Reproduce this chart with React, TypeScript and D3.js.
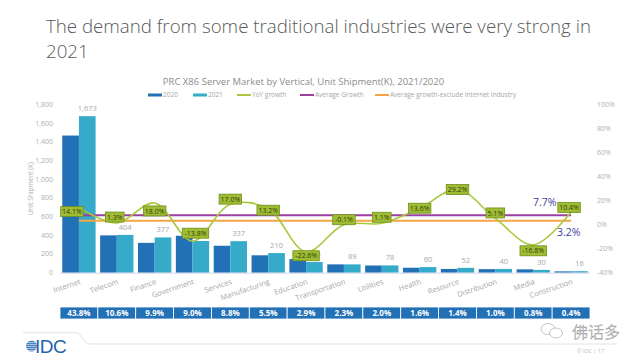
import React from "react";
import * as d3 from "d3";

const categories = ["Internet","Telecom","Finance","Government","Services","Manufacturing","Education","Transportation","Utilities","Health","Resource","Distribution","Media","Construction"];
const units2020 = [1466, 399, 319, 395, 288, 186, 146, 89, 77, 53, 40, 38, 36, 14.5];
const units2021 = [1673, 404, 377, 339, 337, 210, 114, 89, 78, 60, 52, 40, 30, 16];
const yoyGrowth = [14.1, 1.3, 18.0, -13.8, 17.0, 13.2, -22.6, -0.1, 1.1, 13.6, 29.2, 5.1, -16.8, 10.4];
const shares = ["43.8%","10.6%","9.9%","9.0%","8.8%","5.5%","2.9%","2.3%","2.0%","1.6%","1.4%","1.0%","0.8%","0.4%"];
const avgGrowth = 7.7;
const avgGrowthExInternet = 3.2;
const leftTicks = [0,200,400,600,800,1000,1200,1400,1600,1800];
const rightTicks = [-40,-20,0,20,40,60,80,100];

// label placement nudges (style, in px) for the YoY data-label boxes
const boxNudgeY = [4, -6, 8, -8, -5, 1.5, 4, -5, -6, 0, 0, -5.5, 6, -4.5];
const boxNudgeX = [-7, -2, 0, 3, 0, 0, 0, 0, 0, 0, 0, 0, 0, -2];

const C2020 = "#2271b6";
const C2021 = "#36abc9";
const CYOY = "#a9c83c";
const CAVG = "#9c3f9e";
const CAVGX = "#f5a446";
const FONT = "'Open Sans', 'Noto Sans', sans-serif";

export default function App() {
  const W = 640, H = 360;
  const x0 = 60, x1 = 590;
  const yTop = 104.3, yBot = 272.7;
  const x = d3.scaleBand<string>().domain(categories).range([x0, x1]).paddingInner(0.12).paddingOuter(0.06);
  const xs = d3.scaleBand<string>().domain(["2020","2021"]).range([0, x.bandwidth()]);
  const yL = d3.scaleLinear().domain([0, 1800]).range([yBot, yTop]);
  const yR = d3.scaleLinear().domain([-40, 100]).range([yBot, yTop]);
  const cx = (c: string) => (x(c) as number) + x.bandwidth() / 2;
  const tableX = d3.scaleBand<string>().domain(categories).range([x0, x1]);

  const line = d3.line<number>()
    .x((_, i) => cx(categories[i]))
    .y(d => yR(d))
    .curve(d3.curveCatmullRom.alpha(0.5));

  const fmt = d3.format(",");
  const firstC = cx(categories[0]);
  const lastC = cx(categories[categories.length - 1]);

  const legend = [
    { x: 148, label: "2020", color: C2020, h: 3 },
    { x: 193, label: "2021", color: C2021, h: 3 },
    { x: 237, label: "YoY growth", color: CYOY, h: 2 },
    { x: 300, label: "Average Growth", color: CAVG, h: 2 },
    { x: 375, label: "Average growth-exclude Internet Industry", color: CAVGX, h: 2 },
  ];

  return (
    <svg width={W} height={H} style={{ position: "absolute", left: 0, top: 0, background: "#fff" }} fontFamily={FONT}>
      <rect x={0} y={0} width={W} height={H} fill="#fff" />
      {/* Page title */}
      <text x={46} y={33} fontSize={18.7} fontWeight={300} fill="#595959">The demand from some traditional industries were very strong in</text>
      <text x={46} y={58} fontSize={18.7} fontWeight={300} fill="#595959">2021</text>

      {/* Chart title */}
      <text x={303.5} y={85} fontSize={9.5} fill="#8c8c8c" textAnchor="middle">PRC X86 Server Market by Vertical, Unit Shipment(K), 2021/2020</text>

      {/* Legend */}
      {legend.map(l => (
        <g key={l.label}>
          <rect x={l.x} y={95 - l.h / 2} width={14} height={l.h} fill={l.color} />
          <text x={l.x + 15} y={97.3} fontSize={6.5} fill="#a6a6a6">{l.label}</text>
        </g>
      ))}

      {/* Left axis */}
      {leftTicks.map(t => (
        <text key={t} x={53} y={yL(t) + 2.5} fontSize={7} fill="#b0b0b0" textAnchor="end">{fmt(t)}</text>
      ))}
      <text transform={`translate(33,${(yTop + yBot) / 2}) rotate(-90)`} fontSize={6.5} fill="#b0b0b0" textAnchor="middle">Unit Shipment (K)</text>

      {/* Right axis */}
      {rightTicks.map(t => (
        <text key={t} x={597} y={yR(t) + 2.5} fontSize={7} fill="#b0b0b0">{t + "%"}</text>
      ))}

      {/* Bars */}
      {categories.map((c, i) => (
        <g key={c}>
          <rect x={(x(c) as number) + (xs("2020") as number)} y={yL(units2020[i])} width={xs.bandwidth()} height={yBot - yL(units2020[i])} fill={C2020} />
          <rect x={(x(c) as number) + (xs("2021") as number)} y={yL(units2021[i])} width={xs.bandwidth()} height={yBot - yL(units2021[i])} fill={C2021} />
          <text x={(x(c) as number) + (xs("2021") as number) + xs.bandwidth() / 2} y={yL(units2021[i]) - 5} fontSize={7.5} fill="#a6a6a6" textAnchor="middle">{fmt(units2021[i])}</text>
        </g>
      ))}
      <line x1={x0} x2={x1} y1={yBot + 0.5} y2={yBot + 0.5} stroke="#d6d6ee" strokeWidth={1} />

      {/* Category labels */}
      {categories.map(c => (
        <text key={c} transform={`translate(${cx(c) + 2},${yBot + 11}) rotate(-19)`} fontSize={7.5} fill="#a6a6a6" textAnchor="end">{c}</text>
      ))}

      {/* Average lines */}
      <line x1={firstC} x2={lastC} y1={yR(avgGrowth)} y2={yR(avgGrowth)} stroke={CAVG} strokeWidth={2} />
      <line x1={firstC} x2={lastC} y1={yR(avgGrowthExInternet)} y2={yR(avgGrowthExInternet)} stroke={CAVGX} strokeWidth={2} />
      <text x={533} y={206} fontSize={10.5} fill="#3f3fa0">{avgGrowth.toFixed(1) + "%"}</text>
      <text x={557} y={236} fontSize={10.5} fill="#3f3fa0">{avgGrowthExInternet.toFixed(1) + "%"}</text>

      {/* YoY growth line */}
      <path d={line(yoyGrowth) || ""} fill="none" stroke={CYOY} strokeWidth={1.6} />
      {yoyGrowth.map((g, i) => {
        const label = g.toFixed(1) + "%";
        const w = label.length * 3.9 + 3;
        const px = cx(categories[i]) + boxNudgeX[i];
        const py = yR(g) + boxNudgeY[i];
        return (
          <g key={i}>
            <rect x={px - w / 2} y={py - 5} width={w} height={10} fill="#9fbd32" stroke="#6f8e1d" strokeWidth={0.8} />
            <text x={px} y={py + 2.6} fontSize={7} fill="#2f3a10" textAnchor="middle">{label}</text>
          </g>
        );
      })}

      {/* Share table */}
      {categories.map((c, i) => (
        <g key={c}>
          <rect x={tableX(c) as number} y={307} width={tableX.bandwidth()} height={12} fill="#2271b6" stroke="#fff" strokeWidth={0.8} />
          <text x={(tableX(c) as number) + tableX.bandwidth() / 2} y={316} fontSize={8} fontWeight={700} fill="#fff" textAnchor="middle">{shares[i]}</text>
        </g>
      ))}

      {/* Footer */}
      <path d="M23,332.7 L76,332.7 C82,332.7 83,344 90,344 L617,344" fill="none" stroke="#e3e3e3" strokeWidth={1} />
      <defs>
        <clipPath id="globe"><circle cx={31.5} cy={346} r={5.5} /></clipPath>
      </defs>
      <g clipPath="url(#globe)">
        {[0,1,2,3,4,5].map(k => (
          <rect key={k} x={25} y={340.6 + k * 2} width={13} height={1.2} fill="#1e63b0" />
        ))}
      </g>
      <text x={35} y={353} fontSize={19} fill="#1e63b0" fontFamily="'Liberation Sans', Arial, sans-serif" letterSpacing={-0.5}>IDC</text>

      {/* Watermark */}
      <g stroke="#aaa" fill="none" strokeWidth={0.7}>
        <ellipse cx={548} cy={329} rx={7} ry={5.5} />
        <ellipse cx={556} cy={333} rx={6.5} ry={5} fill="#fff" />
      </g>
      <text x={572} y={338} fontSize={16} fontWeight={300} fill="#fafafa" stroke="#999" strokeWidth={0.45} fontFamily="'Noto Sans CJK SC', sans-serif">佛话多</text>
      <text x={577} y={353} fontSize={5.5} fill="#c0c0c0">© IDC  |  17</text>
    </svg>
  );
}
